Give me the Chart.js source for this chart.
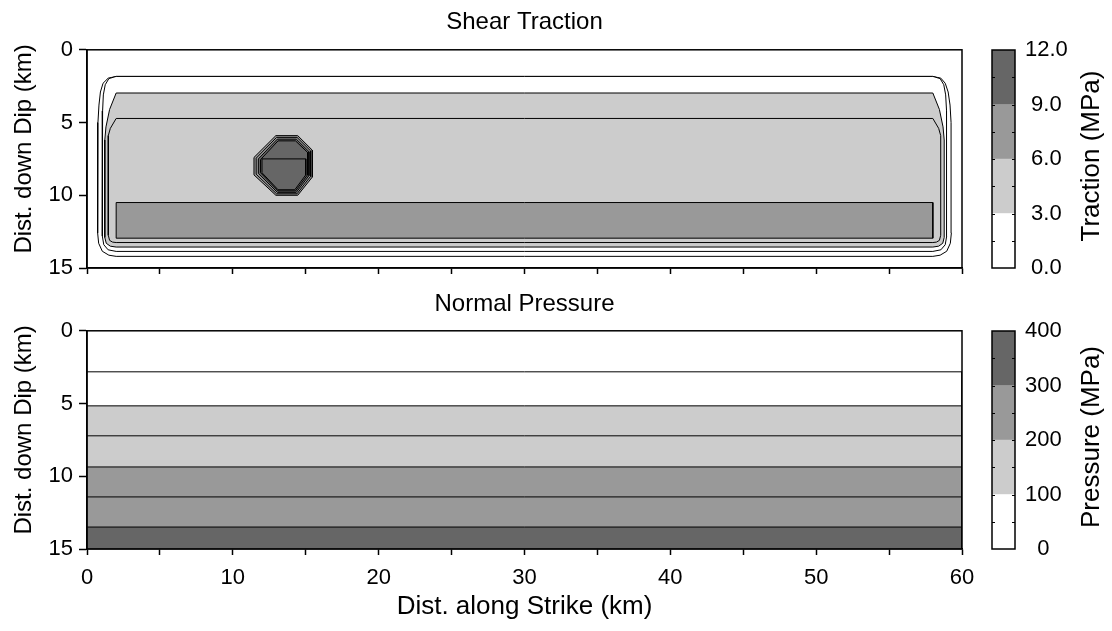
<!DOCTYPE html>
<html>
<head>
<meta charset="utf-8">
<script src="https://cdn.jsdelivr.net/npm/chart.js@4.4.1/dist/chart.umd.min.js"></script>
<style>
  html, body { margin: 0; padding: 0; background: #fff; }
  body { width: 1112px; height: 631px; position: relative; overflow: hidden; }
  canvas { position: absolute; }
</style>
</head>
<body>
<canvas id="shear" width="1000" height="300" style="left:0;top:0"></canvas>
<canvas id="shearBar" width="137" height="300" style="left:975px;top:0"></canvas>
<canvas id="press" width="1000" height="351" style="left:0;top:280px"></canvas>
<canvas id="pressBar" width="137" height="351" style="left:975px;top:280px"></canvas>
<script>
// ---------------- DATA (km along strike, km down dip) ----------------
const strikeTicks = [0, 10, 20, 30, 40, 50, 60];
const dipTicks = [0, 5, 10, 15];

// Shear traction contours (closed polygons)
const tractionLevel1 = [[2.0,1.83],[1.45,1.95],[1.1,2.3],[0.92,2.9],[0.82,3.8],[0.75,5.0],[0.73,12.6],[0.8,13.3],[1.05,13.85],[1.5,14.12],[2.0,14.2],[58.0,14.2],[58.5,14.12],[58.95,13.85],[59.2,13.3],[59.27,12.6],[59.25,5.0],[59.18,3.8],[59.05,2.9],[58.85,2.3],[58.55,1.95],[58.0,1.83],[2.0,1.83]];
const tractionLevel2 = [[2.0,1.83],[1.5,1.98],[1.25,2.4],[1.12,3.1],[1.07,4.2],[1.05,5.5],[1.05,12.8],[1.15,13.4],[1.45,13.75],[2.0,13.86],[58.0,13.86],[58.55,13.75],[58.85,13.4],[58.95,12.8],[58.95,5.5],[58.93,4.2],[58.88,3.1],[58.75,2.4],[58.5,1.98],[58.0,1.83],[2.0,1.83]];
const tractionLevel3 = [[2.0,2.97],[1.55,4.1],[1.3,5.3],[1.22,6.2],[1.22,12.9],[1.32,13.3],[1.6,13.5],[2.0,13.56],[58.0,13.56],[58.4,13.5],[58.68,13.3],[58.78,12.9],[58.78,6.2],[58.7,5.3],[58.45,4.1],[58.0,2.97],[2.0,2.97]];
const tractionLevel4 = [[2.0,4.72],[1.6,5.4],[1.46,5.9],[1.46,12.75],[1.55,13.1],[1.75,13.22],[2.0,13.25],[58.0,13.25],[58.25,13.22],[58.45,13.1],[58.54,12.75],[58.54,5.9],[58.4,5.4],[58.0,4.72],[2.0,4.72]];
const tractionLevel5 = [[2.0,10.5],[58.0,10.5],[58.0,12.95],[2.0,12.95],[2.0,10.5]];
const asperity1 = [[12.95,5.9],[14.45,5.9],[15.45,6.9],[15.45,8.75],[14.45,10.0],[12.95,10.0],[11.45,8.6],[11.45,7.4],[12.95,5.9]];
const asperity2 = [[13.0,6.02],[14.4,6.02],[15.33,6.95],[15.33,8.7],[14.4,9.9],[13.0,9.9],[11.6,8.55],[11.6,7.45],[13.0,6.02]];
const asperity3 = [[13.05,6.14],[14.35,6.14],[15.22,7.0],[15.22,8.65],[14.35,9.8],[13.05,9.8],[11.75,8.5],[11.75,7.5],[13.05,6.14]];
const asperity4 = [[13.1,6.26],[14.3,6.26],[15.12,7.05],[15.12,8.6],[14.3,9.7],[13.1,9.7],[11.9,8.45],[11.9,7.55],[13.1,6.26]];
const asperity5 = [[12.0,7.5],[15.0,7.5],[15.0,8.6],[14.25,9.62],[13.1,9.62],[12.0,8.45],[12.0,7.5]];

// Normal pressure contour depths (km) — horizontal lines
const pressureLineDepths = [2.82, 5.16, 7.22, 9.36, 11.42, 13.49];

// Colour bars
const tractionBands = [3, 3, 3, 3];        // 0-3, 3-6, 6-9, 9-12 MPa
const tractionTicks = [0, 3, 6, 9, 12];
const pressureBands = [100, 100, 100, 100]; // 0-100 ... 300-400 MPa
const pressureTicks = [0, 100, 200, 300, 400];

// ---------------- STYLE ----------------
const FONT = "'Liberation Sans', Arial, Helvetica, sans-serif";
const WHITE = '#ffffff', LIGHT = '#cccccc', MID = '#999999', DARK = '#666666';
const bandColors = [WHITE, LIGHT, MID, DARK];
const tickFont = { family: FONT, size: 22 };
const titleFont = { family: FONT, size: 26 };

const toPts = arr => arr.map(p => ({ x: p[0], y: p[1] }));

function polyDataset(arr, color, idx) {
  return {
    data: toPts(arr),
    showLine: true,
    borderColor: '#000',
    borderWidth: 1,
    backgroundColor: color,
    fill: 'shape',
    pointRadius: 0,
    tension: 0,
    order: -idx
  };
}

const framePlugin = {
  id: 'frame',
  afterDatasetsDraw(chart, args, opts) {
    const a = chart.chartArea, ctx = chart.ctx;
    ctx.save();
    ctx.strokeStyle = '#000';
    ctx.lineWidth = opts.width || 1.5;
    ctx.strokeRect(a.left, a.top, a.right - a.left, a.bottom - a.top);
    ctx.restore();
  }
};

const sideTitlePlugin = {
  id: 'sideTitle',
  afterDraw(chart, args, opts) {
    if (!opts || !opts.text) return;
    const a = chart.chartArea, ctx = chart.ctx;
    ctx.save();
    ctx.font = `${opts.size}px ${FONT}`;
    ctx.fillStyle = '#000';
    ctx.textAlign = 'center';
    ctx.textBaseline = 'middle';
    const x = opts.side === 'left' ? opts.x : a.right + opts.x;
    ctx.translate(x, (a.top + a.bottom) / 2 + (opts.dy || 0));
    ctx.rotate(-Math.PI / 2);
    ctx.fillText(opts.text, 0, 0);
    ctx.restore();
  }
};

const innerTickPlugin = {
  id: 'innerTicks',
  afterDraw(chart, args, opts) {
    if (!opts || !opts.step) return;
    const a = chart.chartArea, ctx = chart.ctx, y = chart.scales.y;
    ctx.save();
    ctx.strokeStyle = '#000';
    ctx.lineWidth = 1;
    for (let v = y.min + opts.step; v < y.max - 1e-9; v += opts.step) {
      const py = Math.round(y.getPixelForValue(v)) + 0.5;
      ctx.beginPath();
      ctx.moveTo(a.left, py); ctx.lineTo(a.left + 3, py);
      ctx.moveTo(a.right - 3, py); ctx.lineTo(a.right, py);
      ctx.stroke();
    }
    ctx.restore();
  }
};

function fieldOptions(opt) {
  return {
    responsive: false,
    devicePixelRatio: 1,
    animation: false,
    events: [],
    layout: { padding: { left: 0, right: 38, top: 0, bottom: 0 } },
    plugins: {
      legend: { display: false },
      tooltip: { enabled: false },
      title: {
        display: true, text: opt.title, fullSize: false,
        color: '#000', font: { family: FONT, size: 24, weight: 'normal' },
        padding: opt.titlePad
      },
      sideTitle: { text: 'Dist. down Dip (km)', side: 'left', x: 24, dy: -10, size: 24 },
      frame: { width: 1.5 }
    },
    scales: {
      x: {
        type: 'linear', min: 0, max: 60,
        ticks: {
          stepSize: 5, autoSkip: false, maxRotation: 0, color: '#000', font: tickFont,
          padding: 10,
          callback: v => (opt.xLabels && strikeTicks.includes(v)) ? String(v) : ''
        },
        grid: { drawOnChartArea: false, drawTicks: true, tickLength: 6, tickWidth: 1.5, tickColor: '#000' },
        border: { display: true, color: '#000', width: 1.5 },
        title: opt.xLabels ? { display: true, text: 'Dist. along Strike (km)', color: '#000', font: titleFont, padding: { top: 0, bottom: 9 } } : { display: false },
        afterFit: s => { s.height = opt.xHeight; }
      },
      y: {
        type: 'linear', min: 0, max: 15, reverse: true,
        ticks: {
          stepSize: 5, autoSkip: false, color: '#000', font: tickFont, padding: 6,
          callback: v => dipTicks.includes(v) ? String(v) : ''
        },
        grid: { drawOnChartArea: false, drawTicks: true, tickLength: 8, tickWidth: 1.5, tickColor: '#000' },
        border: { display: true, color: '#000', width: 1.5 },
        afterFit: s => { s.width = 87; }
      }
    }
  };
}

// ---------------- TOP: Shear Traction ----------------
const shearPolys = [
  [tractionLevel1, WHITE], [tractionLevel2, WHITE], [tractionLevel3, LIGHT], [tractionLevel4, LIGHT],
  [tractionLevel5, MID], [asperity1, MID], [asperity2, MID], [asperity3, DARK], [asperity4, DARK], [asperity5, DARK]
];
new Chart(document.getElementById('shear'), {
  type: 'line',
  data: { datasets: shearPolys.map((p, i) => polyDataset(p[0], p[1], i)) },
  options: fieldOptions({ title: 'Shear Traction', titlePad: { top: 8, bottom: 13 }, xLabels: false, xHeight: 32 }),
  plugins: [framePlugin, sideTitlePlugin]
});

// ---------------- BOTTOM: Normal Pressure ----------------
const pressFillColors = [WHITE, LIGHT, LIGHT, MID, MID, DARK];
const pressDatasets = pressureLineDepths.map((d, i) =>
  polyDataset([[0, d], [60, d], [60, 15], [0, 15], [0, d]], pressFillColors[i], i));
new Chart(document.getElementById('press'), {
  type: 'line',
  data: { datasets: pressDatasets },
  options: fieldOptions({ title: 'Normal Pressure', titlePad: { top: 10, bottom: 12 }, xLabels: true, xHeight: 82 }),
  plugins: [framePlugin, sideTitlePlugin]
});

// ---------------- Colour bars ----------------
function colorBar(id, bands, ticks, fmt, title, padTop, padBottom) {
  return new Chart(document.getElementById(id), {
    type: 'bar',
    data: {
      labels: [''],
      datasets: bands.map((b, i) => ({
        data: [b], backgroundColor: bandColors[i], borderWidth: 0,
        barPercentage: 1, categoryPercentage: 1
      }))
    },
    options: {
      responsive: false, devicePixelRatio: 1, animation: false, events: [],
      layout: { padding: { left: 17, right: 0, top: padTop, bottom: padBottom } },
      plugins: {
        legend: { display: false }, tooltip: { enabled: false },
        frame: { width: 1.5 },
        innerTicks: { step: (ticks[1] - ticks[0]) / 2 },
        sideTitle: { text: title, side: 'right', x: 77, dy: -3, size: 26 }
      },
      scales: {
        x: { display: false, stacked: true },
        y: {
          position: 'right', stacked: true, min: ticks[0], max: ticks[ticks.length - 1],
          ticks: { stepSize: ticks[1] - ticks[0], color: '#000', font: tickFont, padding: 10, crossAlign: 'center', callback: fmt },
          grid: { display: false, drawTicks: false },
          border: { display: false },
          afterFit: s => { s.width = 97; }
        }
      }
    },
    plugins: [framePlugin, sideTitlePlugin, innerTickPlugin]
  });
}
colorBar('shearBar', tractionBands, tractionTicks, v => Number(v).toFixed(1), 'Traction (MPa)', 50, 32);
colorBar('pressBar', pressureBands, pressureTicks, v => String(v), 'Pressure (MPa)', 51, 82);
</script>
</body>
</html>
